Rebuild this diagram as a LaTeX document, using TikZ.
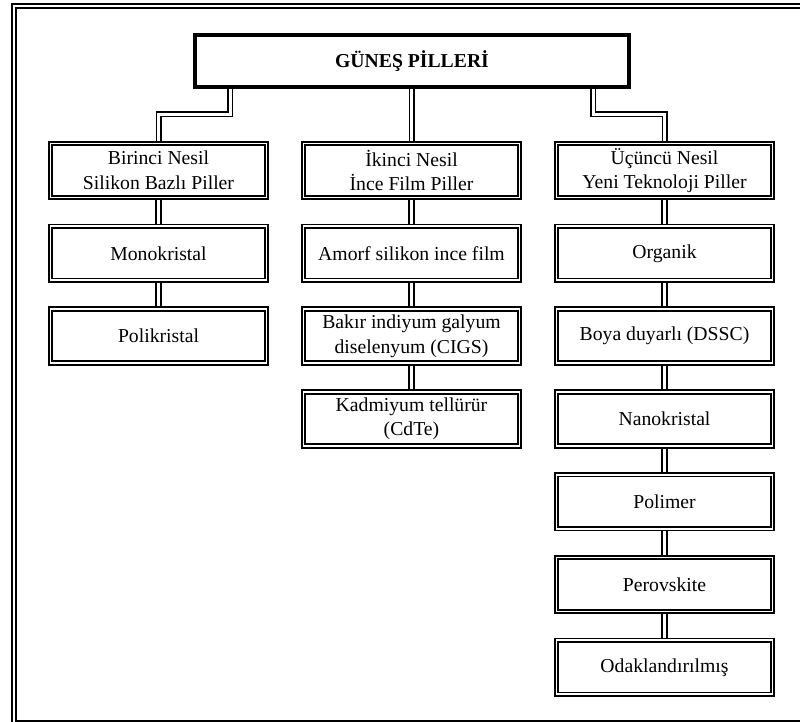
\documentclass[tikz,border=0pt]{standalone}
\usepackage{fontspec}
\setmainfont{Liberation Serif}
\usetikzlibrary{positioning,backgrounds}

\begin{document}
\begin{tikzpicture}[
    x=1pt, y=-1pt,
    node distance=28.8pt,
    cell/.style={rectangle, draw, fill=white, double, line width=1.8pt, double distance=1.7pt, outer sep=0pt, minimum width=216pt, minimum height=54pt, align=center, font=\fontsize{19.7}{24.5}\selectfont},
    head/.style={rectangle, draw, fill=white, line width=3.6pt, outer sep=0pt, minimum width=434pt, minimum height=52pt, font=\bfseries\fontsize{19.7}{24.5}\selectfont},
    link/.style={double, line width=1.8pt, double distance=3pt}
]
    \useasboundingbox (0,0) rectangle (800,722);
    \draw[double, line width=1.5pt, double distance=2.2pt] (14,6) rectangle (812,723);

    \node[head] (top) at (412,61) {GÜNEŞ PİLLERİ};
    \node[cell] (first) at (158.5,170.5) {Birinci Nesil\\Silikon Bazlı Piller};
    \node[cell] (second) at (411.5,170.5) {İkinci Nesil\\İnce Film Piller};
    \node[cell] (third) at (664.5,170.5) {Üçüncü Nesil\\Yeni Teknoloji Piller};

    \node[cell, below=of first] (mono) {Monokristal};
    \node[cell, below=of mono] (poli) {Polikristal};

    \node[cell, below=of second] (amorf) {Amorf silikon ince film};
    \node[cell, below=of amorf] (cigs) {Bakır indiyum galyum\\diselenyum (CIGS)};
    \node[cell, below=of cigs] (cdte) {Kadmiyum tellürür\\(CdTe)};

    \node[cell, below=of third] (organik) {Organik};
    \node[cell, below=of organik] (dssc) {Boya duyarlı (DSSC)};
    \node[cell, below=of dssc] (nano) {Nanokristal};
    \node[cell, below=of nano] (polimer) {Polimer};
    \node[cell, below=of polimer] (perov) {Perovskite};
    \node[cell, below=of perov] (odak) {Odaklandırılmış};

    \coordinate (split) at (412,114.5);

    \begin{pgfonlayer}{background}
        \draw[link, line width=1.5pt] ([xshift=-182pt]top.south) |- (split -| first) -- (first.north);
        \draw[link, line width=1.5pt] (top.south -| second) -- (second.north);
        \draw[link, line width=1.5pt] ([xshift=181pt]top.south) |- (split -| third) -- (third.north);

        \draw[link] (first) -- (mono);
        \draw[link] (mono) -- (poli);
        \draw[link] (second) -- (amorf);
        \draw[link] (amorf) -- (cigs);
        \draw[link] (cigs) -- (cdte);
        \draw[link] (third) -- (organik);
        \draw[link] (organik) -- (dssc);
        \draw[link] (dssc) -- (nano);
        \draw[link] (nano) -- (polimer);
        \draw[link] (polimer) -- (perov);
        \draw[link] (perov) -- (odak);
    \end{pgfonlayer}
\end{tikzpicture}
\end{document}
